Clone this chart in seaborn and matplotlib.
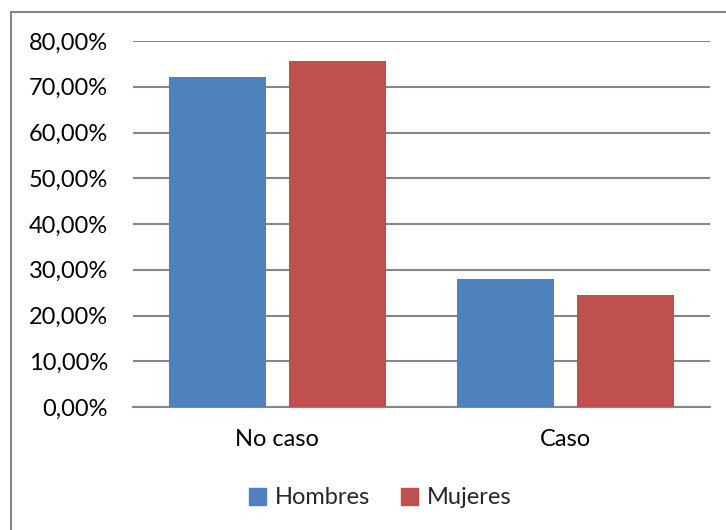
import matplotlib
matplotlib.use("Agg")
import matplotlib.pyplot as plt
from matplotlib.lines import Line2D
from matplotlib.ticker import FuncFormatter, MultipleLocator
import pandas as pd
import seaborn as sns

categorias = ["No caso", "Caso"]
hombres = [72.1, 27.9]
mujeres = [75.6, 24.4]
series = ["Hombres", "Mujeres"]
colores = ["#4F81BD", "#C0504D"]

df = pd.DataFrame({
    "categoria": categorias * 2,
    "sexo": [series[0]] * 2 + [series[1]] * 2,
    "porcentaje": hombres + mujeres,
})

sns.set_theme(style="white")
plt.rcParams["font.family"] = ["Lato", "DejaVu Sans"]

fig = plt.figure(figsize=(7.26, 5.30), dpi=100)
ax = fig.add_axes([133 / 726, (530 - 407) / 530, (710 - 133) / 726, (407 - 41) / 530])

sns.barplot(data=df, x="categoria", y="porcentaje", hue="sexo",
            order=categorias, hue_order=series, palette=colores,
            width=0.83, gap=0.19, saturation=1, errorbar=None,
            linewidth=0, ax=ax, zorder=3)

ax.set_xlim(-0.5, 1.5)
ax.set_ylim(0, 80)
ax.yaxis.set_major_locator(MultipleLocator(10))
ax.yaxis.set_major_formatter(FuncFormatter(lambda v, _: f"{v:.2f}".replace(".", ",") + "%"))
ax.grid(axis="y", color="#868686", linewidth=1.5, zorder=0)
ax.set_axisbelow(True)
for s in ["top", "right", "left"]:
    ax.spines[s].set_visible(False)
ax.spines["bottom"].set_color("#868686")
ax.spines["bottom"].set_linewidth(1.5)
ax.set_xlabel("")
ax.set_ylabel("")
ax.tick_params(axis="y", length=0, pad=18, labelsize=17, labelcolor="black")
ax.tick_params(axis="x", length=0, pad=16, labelsize=17, labelcolor="black")

ax.get_legend().remove()
handles = [plt.Rectangle((0, 0), 1, 1, color=c) for c in colores]
fig.legend(handles, series, loc="center", bbox_to_anchor=(380 / 726, (530 - 498) / 530),
           ncol=2, frameon=False, fontsize=17, handlelength=0.75, handleheight=0.75,
           handletextpad=0.35, columnspacing=1.3)

# figure border (top and left edges)
fig.add_artist(Line2D([11 / 726, 11 / 726], [0, (530 - 12) / 530], color="#868686",
                      linewidth=1.5, transform=fig.transFigure))
fig.add_artist(Line2D([11 / 726, 1], [(530 - 12) / 530, (530 - 12) / 530], color="#868686",
                      linewidth=1.5, transform=fig.transFigure))

fig.savefig("out.png", dpi=100)
